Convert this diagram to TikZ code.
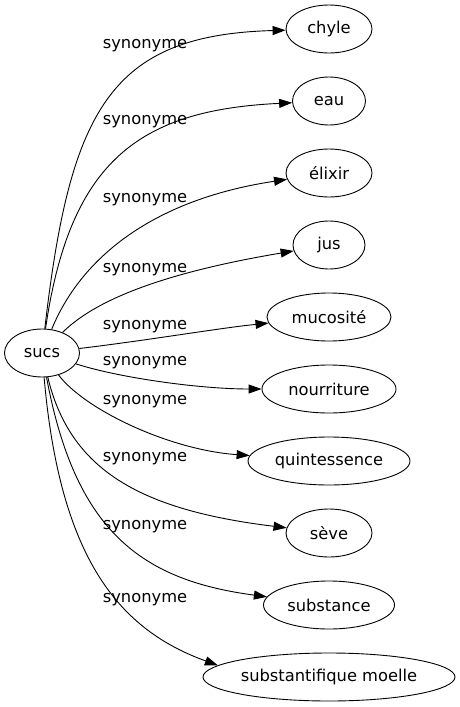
\documentclass[tikz,border=0pt]{standalone}
\usepackage{fontspec}
\setmainfont{DejaVu Sans}
\usetikzlibrary{shapes.geometric,arrows.meta}

\begin{document}
\begin{tikzpicture}[x=1pt,y=-1pt,
    word/.style={ellipse,draw,line width=0.9pt,inner sep=0pt,minimum height=48pt,
      font=\fontsize{16.3}{19}\selectfont},
    rel/.style={inner sep=0pt,font=\fontsize{16.3}{19}\selectfont},
    syn/.style={-{Triangle[length=13pt,width=9pt]},line width=0.9pt}]
      \useasboundingbox (0,0) rectangle (460,707);
      \node[word,minimum width=75pt]  (sucs)         at (42,353)  {sucs};
      \node[word,minimum width=86pt]  (chyle)        at (329,29)  {chyle};
      \node[word,minimum width=73pt]  (eau)          at (329,101) {eau};
      \node[word,minimum width=86pt]  (elixir)       at (329,173) {élixir};
      \node[word,minimum width=72pt]  (jus)          at (329,245) {jus};
      \node[word,minimum width=124pt] (mucosite)     at (329,317) {mucosité};
      \node[word,minimum width=134pt] (nourriture)   at (329,389) {nourriture};
      \node[word,minimum width=162pt] (quintessence) at (329,461) {quintessence};
      \node[word,minimum width=86pt]  (seve)         at (329,533) {sève};
      \node[word,minimum width=131pt] (substance)    at (329,605) {substance};
      \node[word,minimum width=252pt] (moelle)       at (329,677) {substantifique moelle};
      \draw[syn] (sucs) .. controls (70,110)  and (110,35)  .. (chyle);
      \draw[syn] (sucs) .. controls (70,160)  and (140,110) .. (eau);
      \draw[syn] (sucs) .. controls (80,260)  and (150,200) .. (elixir);
      \draw[syn] (sucs) .. controls (100,295) and (180,270) .. (jus);
      \draw[syn] (sucs) .. controls (150,340) and (220,328) .. (mucosite);
      \draw[syn] (sucs) .. controls (120,378) and (200,389) .. (nourriture);
      \draw[syn] (sucs) .. controls (85,410)  and (170,450) .. (quintessence);
      \draw[syn] (sucs) .. controls (70,470)  and (140,510) .. (seve);
      \draw[syn] (sucs) .. controls (75,530)  and (140,580) .. (substance);
      \draw[syn] (sucs) .. controls (60,560)  and (120,630) .. (moelle.174);
      \node[rel] (s1)  at (145,46)  {synonyme};
      \node[rel] (s2)  at (145,122) {synonyme};
      \node[rel] (s3)  at (145,200) {synonyme};
      \node[rel] (s4)  at (145,270) {synonyme};
      \node[rel] (s5)  at (145,327) {synonyme};
      \node[rel] (s6)  at (145,363) {synonyme};
      \node[rel] (s7)  at (145,402) {synonyme};
      \node[rel] (s8)  at (145,459) {synonyme};
      \node[rel] (s9)  at (145,527) {synonyme};
      \node[rel] (s10) at (145,600) {synonyme};
\end{tikzpicture}
\end{document}
